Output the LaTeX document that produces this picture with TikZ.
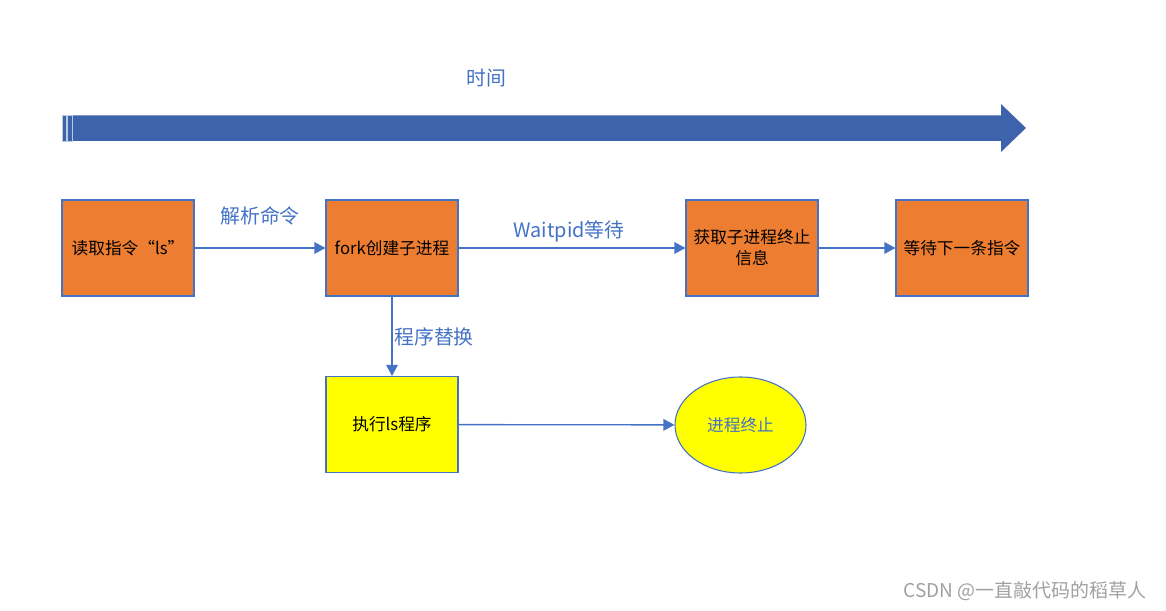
\documentclass[tikz,border=0pt]{standalone}
\usepackage{fontspec}
\usepackage{xcolor}
\usepackage{tikz}
\usetikzlibrary{shapes.geometric, arrows.meta, positioning}
\setmainfont{Noto Sans CJK SC}
\definecolor{flowblue}{HTML}{4472C4}
\definecolor{timeblue}{HTML}{3D63AC}
\definecolor{boxorange}{HTML}{ED7D31}
\definecolor{boxyellow}{HTML}{FFFF00}
\definecolor{markgray}{HTML}{A0A0A0}

\begin{document}
\begin{tikzpicture}[
    stage/.style={rectangle, draw=flowblue, line width=0.6pt, fill=#1, minimum width=26.4mm, minimum height=19.2mm, align=center, font=\fontsize{9.5}{12}\selectfont},
    endstate/.style={ellipse, draw=flowblue, line width=0.6pt, fill=boxyellow, minimum width=26.2mm, minimum height=19.2mm, text=flowblue, font=\fontsize{9.5}{12}\selectfont},
    lbl/.style={text=flowblue, font=\fontsize{11.3}{13}\selectfont},
    arrow/.style={-{Triangle[length=2.2mm, width=2.3mm]}, line width=0.75pt, color=flowblue}
]
\useasboundingbox (0,0) rectangle (23.32,-12.22);

% Time axis
\fill[timeblue] (1.45,-2.31) -- (20.02,-2.31) -- (20.02,-2.08) -- (20.52,-2.56)
    -- (20.02,-3.04) -- (20.02,-2.82) -- (1.45,-2.82) -- cycle;
\draw[fill=timeblue, draw=timeblue!35, line width=0.4pt] (1.25,-2.31) rectangle (1.32,-2.82);
\draw[fill=timeblue, draw=timeblue!35, line width=0.4pt] (1.35,-2.31) rectangle (1.45,-2.82);
\node[lbl] (time) at (9.72,-1.56) {时间};

% Parent process
\node[stage=boxorange] (read) at (2.56,-4.96) {读取指令“ls”};
\node[stage=boxorange] (fork) at (7.84,-4.96) {fork创建子进程};
\node[stage=boxorange] (status) at (15.04,-4.96) {获取子进程终止\\信息};
\node[stage=boxorange] (next) at (19.24,-4.96) {等待下一条指令};

% Child process
\node[stage=boxyellow] (exec) at (7.84,-8.49) {执行ls程序};
\node[endstate] (done) at (14.81,-8.50) {进程终止};

% Arrows
\draw[arrow] (read) -- (fork);
\draw[arrow] (fork) -- (status);
\draw[arrow] (status) -- (next);
\draw[arrow] (fork) -- (exec);
\draw[arrow] (exec) -- (done);

% Arrow labels
\node[lbl] (parse) at (5.2,-4.32) {解析命令};
\node[lbl] (wait) at (11.38,-4.62) {Waitpid等待};
\node[lbl] (replace) at (8.68,-6.74) {程序替换};

% Watermark
\node[text=markgray, font=\fontsize{10.8}{12}\selectfont] (mark) at (20.5,-11.82) {CSDN @一直敲代码的稻草人};

\end{tikzpicture}
\end{document}
